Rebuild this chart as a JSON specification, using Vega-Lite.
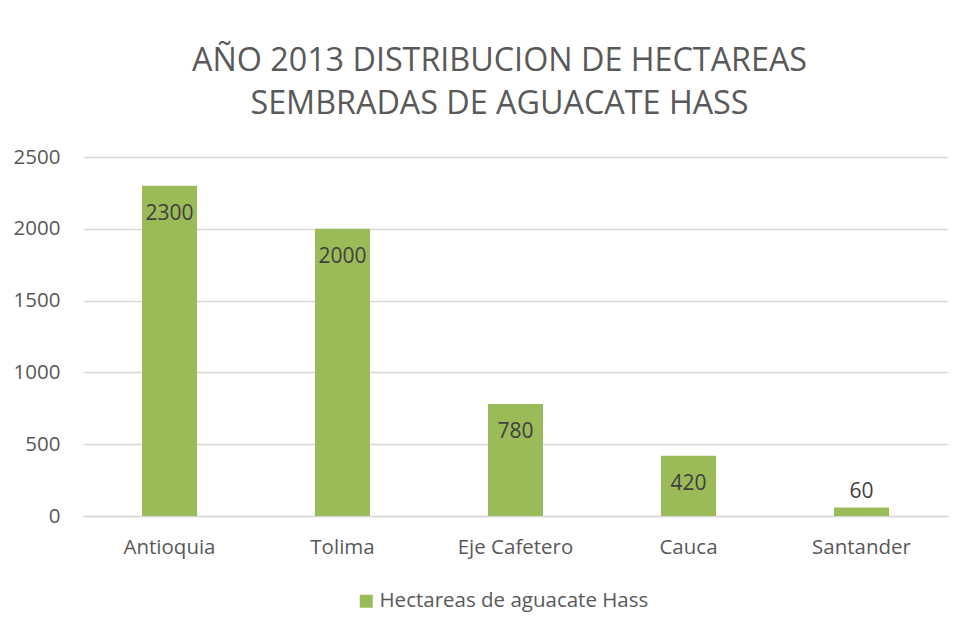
{
  "$schema": "https://vega.github.io/schema/vega-lite/v6.json",
  "width": 865,
  "height": 359,
  "autosize": {"type": "none"},
  "padding": {"left": 83, "top": 157, "right": 30, "bottom": 115},
  "background": "white",
  "config": {"view": {"stroke": null}},
  "title": {
    "text": ["AÑO 2013 DISTRIBUCION DE HECTAREAS", "SEMBRADAS DE AGUACATE HASS"],
    "font": "Open Sans",
    "fontSize": 32.3,
    "fontWeight": "normal",
    "color": "#595959",
    "anchor": "middle",
    "dx": -16,
    "offset": 27,
    "lineHeight": 43
  },
  "data": {
    "values": [
      {"departamento": "Antioquia", "hectareas": 2300},
      {"departamento": "Tolima", "hectareas": 2000},
      {"departamento": "Eje Cafetero", "hectareas": 780},
      {"departamento": "Cauca", "hectareas": 420},
      {"departamento": "Santander", "hectareas": 60}
    ]
  },
  "encoding": {
    "x": {
      "field": "departamento",
      "type": "nominal",
      "sort": null,
      "scale": {"paddingInner": 0.682, "paddingOuter": 0.341},
      "axis": {
        "title": null,
        "labelAngle": 0,
        "labelFont": "Open Sans",
        "labelFontSize": 20.5,
        "labelColor": "#595959",
        "labelPadding": 21,
        "ticks": false,
        "domainColor": "#D9D9D9",
        "domainWidth": 1.5
      }
    },
    "y": {
      "field": "hectareas",
      "type": "quantitative",
      "scale": {"domain": [0, 2500], "nice": false},
      "axis": {
        "title": null,
        "values": [0, 500, 1000, 1500, 2000, 2500],
        "format": "d",
        "domain": false,
        "ticks": false,
        "gridColor": "#D9D9D9",
        "gridWidth": 1.5,
        "labelFont": "Open Sans",
        "labelFontSize": 20.5,
        "labelColor": "#595959",
        "labelPadding": 23
      }
    }
  },
  "layer": [
    {
      "mark": {"type": "bar", "color": "#9BBB59"},
      "encoding": {
        "color": {
          "datum": "Hectareas de aguacate Hass",
          "scale": {"range": ["#9BBB59"]},
          "legend": {
            "title": null,
            "orient": "none",
            "legendX": 273,
            "legendY": 434,
            "direction": "horizontal",
            "symbolType": "square",
            "symbolSize": 169,
            "symbolStrokeWidth": 0,
            "labelFont": "Open Sans",
            "labelFontSize": 20.5,
            "labelColor": "#595959",
            "labelOffset": 3,
            "labelLimit": 0
          }
        }
      }
    },
    {
      "transform": [{"filter": "datum.hectareas >= 100"}],
      "mark": {"type": "text", "baseline": "middle", "dy": 28, "font": "Open Sans", "fontSize": 21, "color": "#404040"},
      "encoding": {"text": {"field": "hectareas", "type": "quantitative", "format": "d"}}
    },
    {
      "transform": [{"filter": "datum.hectareas < 100"}],
      "mark": {"type": "text", "baseline": "middle", "dy": -15, "font": "Open Sans", "fontSize": 21, "color": "#404040"},
      "encoding": {"text": {"field": "hectareas", "type": "quantitative", "format": "d"}}
    }
  ]
}
